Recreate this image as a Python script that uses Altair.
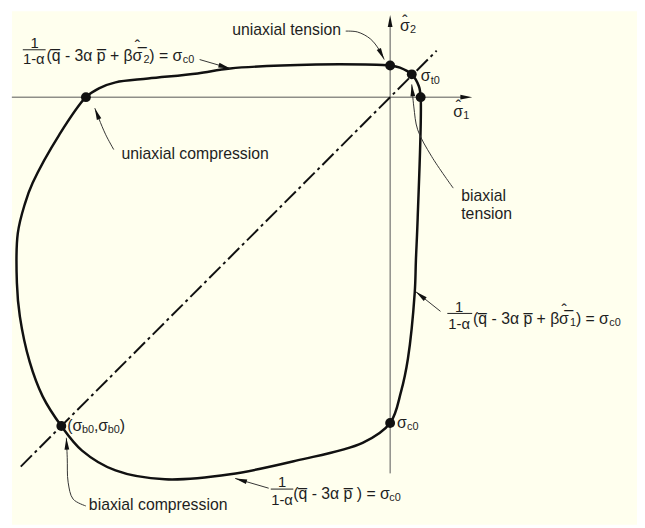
import math
import altair as alt
import pandas as pd

# ---------------- page / scale mapping (30 px per stress unit) ----------------
PX_PER_UNIT = 30.0
ORIGIN_PX = (395.0, 95.0)          # where the two stress axes cross on the page
PAGE_W, PAGE_H, MARGIN = 645, 528, 8
PLOT_W, PLOT_H = PAGE_W - MARGIN, PAGE_H - MARGIN
XDOM = [(MARGIN - ORIGIN_PX[0]) / PX_PER_UNIT, (PAGE_W - ORIGIN_PX[0]) / PX_PER_UNIT]
YDOM = [(ORIGIN_PX[1] - PAGE_H) / PX_PER_UNIT, (ORIGIN_PX[1] - MARGIN) / PX_PER_UNIT]

CREAM = "#FFFFEE"
INK = "#111111"
TXT = "#1e1e1e"
AXIS_GRAY = "#555555"
FONT = "Liberation Sans"

# ---------------- data (stress units, sigma_1 / sigma_2) ----------------
# yield surface, traced clockwise from uniaxial tension on the sigma_2 axis
CURVE_S1 = [0.0, 0.33, 0.73, 0.97, 1.03, 0.93, 0.87, 0.83, 0.60, 0.37, 0.0,
            -0.93, -3.17, -5.40, -7.60, -9.27, -10.40, -11.10, -11.73, -12.17,
            -12.50, -12.60, -12.57, -12.33, -12.07, -11.17, -10.27, -9.83, -9.27,
            -8.17, -6.50, -5.40, -2.50, -0.83, 0.0]
CURVE_S2 = [1.07, 1.00, 0.77, 0.37, 0.0, -4.07, -5.50, -6.60, -8.83, -9.93,
            -11.0, -11.67, -12.27, -12.73, -12.90, -12.60, -11.93, -11.10, -10.10,
            -8.93, -7.40, -6.27, -4.60, -3.60, -2.90, -1.27, 0.0, 0.30, 0.50,
            0.63, 0.80, 0.97, 1.10, 1.10, 1.07]

# marked points: uniaxial tension (s2), biaxial tension, uniaxial tension (s1),
# uniaxial compression (s1), biaxial compression, uniaxial compression (s2)
DOT_S1 = [0.0, 0.73, 1.03, -10.27, -11.10, 0.0]
DOT_S2 = [1.07, 0.77, 0.0, 0.0, -11.10, -11.0]

# stress axes (start, arrow tip)
AXIS_H = [-12.77, 2.77]       # sigma_1 axis extent, along sigma_2 = 0
AXIS_V = [-12.70, 2.77]       # sigma_2 axis extent, along sigma_1 = 0
DIAGONAL = [-12.47, 1.57]     # sigma_1 = sigma_2 line extent

# leader lines (last point = arrow tip)
LEADERS = {
    "uniaxial tension": ([-1.50, -1.10, -0.67, -0.37, -0.20], [2.23, 2.20, 1.97, 1.60, 1.27]),
    "formula 1": ([-6.43, -5.40], [1.27, 0.97]),
    "uniaxial compression": ([-9.33, -9.60, -9.83, -9.97], [-1.77, -1.27, -0.73, -0.37]),
    "biaxial tension": ([2.13, 1.40, 0.93, 0.80, 0.73], [-3.07, -2.00, -1.10, -0.33, 0.43]),
    "formula 2": ([1.70, 0.87], [-7.23, -6.57]),
    "biaxial compression": ([-10.27, -10.70, -10.87, -10.90, -10.93], [-13.80, -13.57, -13.00, -12.17, -11.50]),
    "formula 3": ([-4.10, -5.23], [-13.20, -12.87]),
}

OV = "\u0305"                      # combining overline
HATCH = "\u02C6"                   # circumflex drawn as its own piece
SIG_BAR = "σ" + OV
FORM_A = f"(q{OV} - 3α p{OV} + β"
FORM_B = ") = σ"
FORM_3 = f"(q{OV} - 3α p{OV} ) = σ"

# left-aligned text pieces: text, s1, s2, font size
TEXT_LEFT = [
    ("uniaxial tension", -5.33, 2.27, 16),
    ("uniaxial compression", -9.07, -1.93, 16),
    ("biaxial", 2.40, -3.33, 16),
    ("tension", 2.40, -3.93, 16),
    ("biaxial compression", -10.17, -13.77, 16),
    # axis labels
    ("σ", 0.33, 2.40, 16), ("2", 0.67, 2.25, 11),
    ("σ", 2.13, -0.50, 16), ("1", 2.47, -0.65, 11),
    # point labels
    ("σ", 1.03, 0.70, 16), ("t0", 1.37, 0.56, 11),
    ("σ", 0.23, -11.00, 16), ("c0", 0.57, -11.14, 11),
    ("(σ", -10.90, -11.10, 16), ("b0", -10.40, -11.24, 11),
    (",σ", -10.00, -11.10, 16), ("b0", -9.53, -11.24, 11),
    (")", -9.13, -11.10, 16),
    # formula 1 (top left)
    (FORM_A, -11.60, 1.40, 16), (SIG_BAR, -8.70, 1.40, 16), ("2", -8.33, 1.26, 11),
    (FORM_B, -8.13, 1.40, 16), ("c0", -7.00, 1.26, 11),
    # formula 2 (right)
    (FORM_A, 2.80, -7.50, 16), (SIG_BAR, 5.70, -7.50, 16), ("1", 6.07, -7.64, 11),
    (FORM_B, 6.27, -7.50, 16), ("c0", 7.40, -7.64, 11),
    # formula 3 (bottom)
    (FORM_3, -3.27, -13.40, 16), ("c0", -0.03, -13.54, 11),
]
# centred pieces (fractions and hats): text, s1, s2, font size
TEXT_CENTER = [
    ("1", -12.00, 1.83, 15), ("1-α", -12.03, 1.27, 15),
    ("1", 2.33, -7.07, 15), ("1-α", 2.33, -7.67, 15),
    ("1", -3.65, -13.00, 15), ("1-α", -3.65, -13.60, 15),
    (HATCH, 0.50, 2.55, 16), (HATCH, 2.30, -0.35, 16),
    (HATCH, -8.53, 1.68, 16), (HATCH, 5.87, -7.22, 16),
]
# fraction bars: s1 start, s1 end, s2
FRACTION_BARS = [(-12.40, -11.63, 1.60), (1.93, 2.77, -7.30), (-4.03, -3.27, -13.23)]

# ---------------- tables ----------------
ARROW_PATH = "M0,-1L0.4,1L-0.4,1Z"
ARROW_SIZE = 144
HALF_ARROW_UNITS = (math.sqrt(ARROW_SIZE) / 2) / PX_PER_UNIT


def arrow_row(x_from, y_from, x_tip, y_tip):
    dx, dy = x_tip - x_from, y_tip - y_from
    n = math.hypot(dx, dy)
    ang = math.degrees(math.atan2(dx, dy)) % 360
    return {"x": x_tip - dx / n * HALF_ARROW_UNITS,
            "y": y_tip - dy / n * HALF_ARROW_UNITS, "ang": ang}


curve_df = pd.DataFrame({"x": CURVE_S1, "y": CURVE_S2, "i": range(len(CURVE_S1))})
dots_df = pd.DataFrame({"x": DOT_S1, "y": DOT_S2})
axes_df = pd.DataFrame({"x": [AXIS_H[0], 0.0], "x2": [AXIS_H[1] - 0.2, 0.0],
                        "y": [0.0, AXIS_V[0]], "y2": [0.0, AXIS_V[1] - 0.2]})
diag_df = pd.DataFrame({"x": [DIAGONAL[0]], "x2": [DIAGONAL[1]],
                        "y": [DIAGONAL[0]], "y2": [DIAGONAL[1]]})

lead_rows, arrow_rows = [], []
for name, (xs, ys) in LEADERS.items():
    for k, (a, b) in enumerate(zip(xs, ys)):
        lead_rows.append({"id": name, "i": k, "x": a, "y": b})
    arrow_rows.append(arrow_row(xs[-2], ys[-2], xs[-1], ys[-1]))
arrow_rows.append(arrow_row(AXIS_H[0], 0.0, AXIS_H[1], 0.0))
arrow_rows.append(arrow_row(0.0, AXIS_V[0], 0.0, AXIS_V[1]))
lead_df = pd.DataFrame(lead_rows)
arrow_df = pd.DataFrame(arrow_rows)

tl_df = pd.DataFrame(TEXT_LEFT, columns=["t", "x", "y", "fs"])
tc_df = pd.DataFrame(TEXT_CENTER, columns=["t", "x", "y", "fs"])
bars_df = pd.DataFrame(FRACTION_BARS, columns=["x", "x2", "y"])


def X(f="x"):
    return alt.X(f"{f}:Q", scale=alt.Scale(domain=XDOM, nice=False, zero=False), axis=None)


def Y(f="y"):
    return alt.Y(f"{f}:Q", scale=alt.Scale(domain=YDOM, nice=False, zero=False), axis=None)


bg = alt.Chart(pd.DataFrame({"k": [0]})).mark_rect(color=CREAM).encode(
    x=alt.value(4), x2=alt.value(PLOT_W), y=alt.value(0), y2=alt.value(PLOT_H))

axes = alt.Chart(axes_df).mark_rule(color=AXIS_GRAY, strokeWidth=1).encode(
    x=X(), y=Y(), x2="x2", y2="y2")

diag = alt.Chart(diag_df).mark_rule(color=INK, strokeWidth=2, strokeDash=[16, 4, 3, 4]).encode(
    x=X(), y=Y(), x2="x2", y2="y2")

curve = alt.Chart(curve_df).mark_line(interpolate="catmull-rom", color=INK, strokeWidth=2.5).encode(
    x=X(), y=Y(), order="i:Q")

leaders = alt.Chart(lead_df).mark_line(interpolate="catmull-rom", color="#333333", strokeWidth=1).encode(
    x=X(), y=Y(), detail="id:N", order="i:Q")

arrows = alt.Chart(arrow_df).mark_point(shape=ARROW_PATH, filled=True, size=ARROW_SIZE,
                                        color=INK, opacity=1, strokeWidth=0).encode(
    x=X(), y=Y(), angle=alt.Angle("ang:Q", scale=None))

dots = alt.Chart(dots_df).mark_circle(color=INK, size=100, opacity=1).encode(x=X(), y=Y())

bars = alt.Chart(bars_df).mark_rule(color=TXT, strokeWidth=1).encode(x=X(), x2="x2", y=Y())

text_left = alt.Chart(tl_df).mark_text(align="left", baseline="middle", font=FONT, color=TXT).encode(
    x=X(), y=Y(), text="t:N", size=alt.Size("fs:Q", scale=None))

text_center = alt.Chart(tc_df).mark_text(align="center", baseline="middle", font=FONT, color=TXT).encode(
    x=X(), y=Y(), text="t:N", size=alt.Size("fs:Q", scale=None))

chart = alt.layer(bg, axes, diag, curve, leaders, arrows, dots, bars, text_left, text_center).properties(
    width=PLOT_W, height=PLOT_H, padding=0, autosize="none", background="white"
).configure_view(stroke=None)

chart.save("out.html", embed_options={"renderer": "svg", "actions": False})
